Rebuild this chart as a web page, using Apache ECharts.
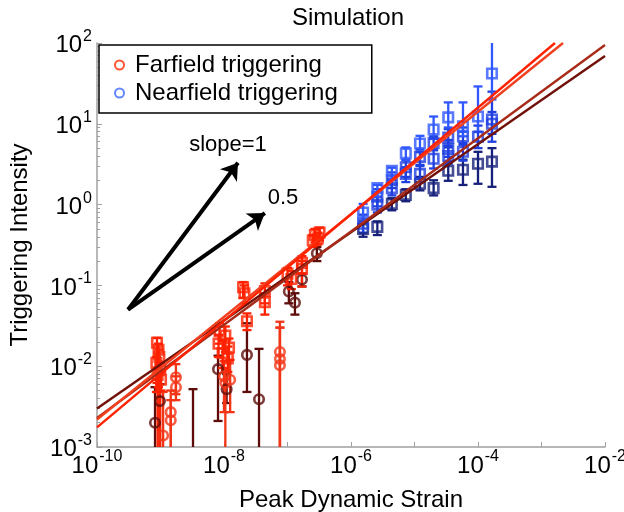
<!DOCTYPE html>
<html><head><meta charset="utf-8">
<script src="https://cdn.jsdelivr.net/npm/echarts@6/dist/echarts.min.js"></script>
<style>html,body{margin:0;padding:0;background:#fff}#c{width:624px;height:512px}</style>
</head><body><div id="c"></div>
<script>
// ---- data: [strain, intensity, lowerBound, upperBound] ----
const farBright = [
  [8.8e-10, 0.0195, 0.0062, 0.0225], [9.3e-10, 0.016, 0.0055, 0.019], [9.6e-10, 0.013, 0.0001, 0.016],
  [8.6e-10, 0.011, 0.0048, 0.013], [9.9e-10, 0.0092, 0.0001, 0.011], [9.0e-10, 0.0078, 0.0001, 0.0095],
  [1.02e-9, 0.0068, 0.005, 0.0085],
  [8.5e-9, 0.027, 0.019, 0.034], [1.05e-8, 0.024, 0.015, 0.031], [8.2e-9, 0.019, 0.013, 0.0245],
  [1.2e-8, 0.017, 0.0118, 0.022], [9.5e-9, 0.0145, 0.0095, 0.0205], [1.15e-8, 0.0125, 0.0085, 0.0175],
  [2.0e-8, 0.095, 0.07, 0.11], [2.1e-8, 0.08, 0.06, 0.1], [2.3e-8, 0.036, 0.028, 0.045],
  [4.4e-8, 0.085, 0.06, 0.106], [4.4e-8, 0.062, 0.0435, 0.08],
  [1.0e-7, 0.14, 0.1, 0.165], [1.15e-7, 0.12, 0.09, 0.15],
  [1.69e-7, 0.19, 0.14, 0.23], [1.69e-7, 0.16, 0.097, 0.2],
  [2.7e-7, 0.42, 0.34, 0.5], [3.2e-7, 0.45, 0.36, 0.52], [2.5e-7, 0.36, 0.3, 0.42], [3.0e-7, 0.38, 0.32, 0.45]
];
const farMid = [
  [1.75e-9, 0.0073, 0.0045, 0.0106], [1.75e-9, 0.0055, 0.0038, 0.0075], [1.45e-9, 0.0027, 0.0001, 0.005],
  [1.45e-9, 0.00214, 0.0001, 0.0038], [1.1e-9, 0.00139, 0.0001, 0.0048],
  [1.25e-8, 0.0068, 0.0027, 0.012], [1.0e-8, 0.0075, 0.0027, 0.0115], [1.05e-8, 0.0062, 0.0001, 0.009],
  [7.6e-8, 0.015, 0.0001, 0.0355], [7.6e-8, 0.0123, 0.0001, 0.03], [7.6e-8, 0.0103, 0.0001, 0.03]
];
const farDark = [
  [8.2e-10, 0.002, 0.0001, 0.0055], [9.8e-10, 0.0037, 0.0001, 0.006], [3.25e-9, 0.0005, 0.0001, 0.0052],
  [8.05e-9, 0.0092, 0.0021, 0.0135], [1.1e-8, 0.0052, 0.0035, 0.008], [2.3e-8, 0.0138, 0.0048, 0.034],
  [3.56e-8, 0.0039, 0.0001, 0.0164], [1.05e-7, 0.084, 0.06, 0.11], [1.31e-7, 0.0612, 0.0435, 0.08],
  [1.69e-7, 0.118, 0.097, 0.14], [2.9e-7, 0.25, 0.2, 0.3]
];
const nearLight = [
  [1.55e-6, 0.8, 0.6, 1.02], [2.6e-6, 1.6, 1.25, 1.75], [4.4e-6, 2.62, 2.1, 2.86], [7.3e-6, 4.3, 3.5, 5.1],
  [1.22e-5, 5.7, 4.5, 7.1], [2.0e-5, 8.5, 6.5, 12.3], [3.4e-5, 12, 9, 18.4], [5.8e-5, 9.3, 7, 18.4],
  [1e-4, 12.3, 8, 29], [1.66e-4, 42, 20, 200]
];
const nearMid = [
  [1.55e-6, 0.58, 0.45, 0.75], [2.6e-6, 1.25, 0.95, 1.55], [2.6e-6, 1.0, 0.8, 1.25], [4.4e-6, 2.0, 1.6, 2.5],
  [4.4e-6, 1.6, 1.3, 2.0], [7.3e-6, 2.9, 2.2, 3.6], [7.3e-6, 2.4, 1.9, 2.9], [1.22e-5, 3.9, 3.1, 4.8],
  [1.22e-5, 2.4, 1.9, 3.0], [2.0e-5, 5.8, 4.7, 7.0], [2.0e-5, 3.7, 2.8, 4.8], [3.4e-5, 6.75, 5.3, 8.6],
  [3.4e-5, 4.9, 3.9, 6.3], [3.4e-5, 4.0, 3.2, 5.1], [5.8e-5, 6.95, 5.5, 9], [5.8e-5, 4.5, 3.5, 5.8],
  [1e-4, 6.9, 5, 9.5], [1.66e-4, 11.3, 7.5, 25], [1.66e-4, 10, 6, 14]
];
const nearNavy = [
  [1.55e-6, 0.5, 0.4, 0.62], [2.6e-6, 0.53, 0.42, 0.62], [4.4e-6, 1.02, 0.85, 1.2], [7.3e-6, 1.32, 1.1, 1.55],
  [1.22e-5, 1.81, 1.5, 2.2], [2.0e-5, 1.6, 1.3, 2.0], [3.4e-5, 2.62, 1.97, 3.4], [5.8e-5, 2.7, 1.75, 3.6],
  [1e-4, 3.2, 1.81, 4.5], [1.66e-4, 3.4, 1.66, 5.0]
];
// fitted power-law lines (endpoints)
const fitA = [[1e-10, 1.75e-3], [1.63e-3, 100]];
const fitB = [[1e-10, 2.19e-3], [2.18e-3, 100]];
const fitC = [[1e-10, 2.29e-3], [1e-2, 94.4]];
const fitD = [[1e-10, 3.0e-3], [1e-2, 68.9]];
// slope guide arrows
const arrowTail = [3.08e-10, 0.05];
const arrowSlope1 = [1.66e-8, 3.3];
const arrowSlope05 = [4.4e-8, 0.785];
const yMinorTicks = [];
[1e-3, 1e-2, 1e-1, 1, 10].forEach(d => { for (let k = 2; k <= 9; k++) yMinorTicks.push(+(d * k).toPrecision(3)); });

const FONT = '"Liberation Sans", Arial, Helvetica, sans-serif';
const rich = {
  b: { fontSize: 24, fontFamily: FONT, color: '#000', lineHeight: 29, verticalAlign: 'bottom' },
  s: { fontSize: 16, fontFamily: FONT, color: '#000', lineHeight: 15, verticalAlign: 'top', padding: [0, 0, 0, 1] }
};
function supLabel(v, evenOnly) {
  const e = Math.round(Math.log10(v));
  if (evenOnly && e % 2 !== 0) return '';
  return '{b|10}{s|' + e + '}';
}
function errSeries(data, color) {
  return {
    type: 'custom', clip: true, data: data, z: 2,
    encode: { x: 0, y: 1 },
    renderItem: function (params, api) {
      const x = api.value(0), lo = api.value(2), hi = api.value(3);
      const p1 = api.coord([x, lo]), p2 = api.coord([x, hi]);
      const w = 4.5, st = { stroke: color, lineWidth: 2.3 };
      return { type: 'group', children: [
        { type: 'line', shape: { x1: p1[0], y1: p1[1], x2: p2[0], y2: p2[1] }, style: st },
        { type: 'line', shape: { x1: p1[0] - w, y1: p1[1], x2: p1[0] + w, y2: p1[1] }, style: st },
        { type: 'line', shape: { x1: p2[0] - w, y1: p2[1], x2: p2[0] + w, y2: p2[1] }, style: st }
      ]};
    }
  };
}
function markSeries(data, color, symbol) {
  return {
    type: 'scatter', data: data.map(d => [d[0], d[1]]), symbol: symbol, symbolSize: 9.5, z: 3, clip: true,
    itemStyle: { color: 'transparent', borderColor: color, borderWidth: 2.6 }, silent: true
  };
}
function fitSeries(data, color) {
  return { type: 'line', data: data, showSymbol: false, symbol: 'none', z: 4,
    lineStyle: { color: color, width: 2.4 }, clip: true };
}
const C_FB = '#ff2200', C_FM = '#f23416', C_FD = '#5e0c0a';
const C_NL = '#3058ff', C_NM = '#1f3fe0', C_NN = '#16207a';

const chart = echarts.init(document.getElementById('c'), null, { renderer: 'canvas' });
chart.setOption({
  animation: false,
  backgroundColor: '#fff',
  grid: { left: 97, right: 19, top: 43, bottom: 65, containLabel: false, outerBoundsMode: 'none' },
  xAxis: {
    type: 'log', logBase: 10, min: 1e-10, max: 1e-2, splitNumber: 8,
    name: 'Peak Dynamic Strain', nameLocation: 'middle', nameGap: 41,
    nameTextStyle: { fontSize: 24, fontFamily: FONT, color: '#000' },
    axisLine: { lineStyle: { color: '#a0a0a0', width: 1.5 } },
    axisTick: { inside: true, length: 5, lineStyle: { color: '#a0a0a0' } },
    axisLabel: { formatter: v => supLabel(v, true), rich: rich, margin: 2, showMinLabel: true, showMaxLabel: true },
    splitLine: { show: false }
  },
  yAxis: [{
    type: 'log', logBase: 10, min: 1e-3, max: 1e2, splitNumber: 5,
    name: 'Triggering Intensity', nameLocation: 'middle', nameGap: 65,
    nameTextStyle: { fontSize: 24, fontFamily: FONT, color: '#000' },
    axisLine: { lineStyle: { color: '#a0a0a0', width: 1.5 } },
    axisTick: { inside: true, length: 5, lineStyle: { color: '#a0a0a0' } },
    axisLabel: { formatter: v => supLabel(v, false), rich: rich, margin: 5 },
    splitLine: { show: false }
  }, {
    type: 'log', logBase: 10, min: 1e-3, max: 1e2, position: 'left',
    axisLine: { show: false },
    axisTick: { inside: true, length: 3, customValues: yMinorTicks, lineStyle: { color: '#a0a0a0' } },
    axisLabel: { show: false }, splitLine: { show: false }
  }],
  legend: {
    data: ['Farfield triggering', 'Nearfield triggering'],
    orient: 'vertical', left: 99, top: 45,
    padding: [6, 34, 6, 15], itemGap: 0, itemWidth: 9, itemHeight: 9,
    borderColor: '#000', borderWidth: 1.5, backgroundColor: '#fff',
    textStyle: { fontSize: 24, lineHeight: 28, fontFamily: FONT, color: '#000', padding: [0, 0, 0, 6] }
  },
  graphic: [
    { type: 'text', x: 348, y: 18, style: { text: 'Simulation', font: '24px ' + FONT, fill: '#000', align: 'center', verticalAlign: 'middle' } },
    { type: 'text', x: 228, y: 145, z: 10, style: { text: 'slope=1', font: '22px ' + FONT, fill: '#000', align: 'center', verticalAlign: 'middle' } },
    { type: 'text', x: 283, y: 198, z: 10, style: { text: '0.5', font: '22px ' + FONT, fill: '#000', align: 'center', verticalAlign: 'middle' } }
  ],
  series: [
    errSeries(farDark, C_FD), errSeries(farMid, C_FM), errSeries(farBright, C_FB),
    errSeries(nearNavy, C_NN), errSeries(nearMid, C_NM), errSeries(nearLight, C_NL),
    markSeries(farDark, C_FD, 'circle'), markSeries(farMid, C_FM, 'circle'), markSeries(farBright, C_FB, 'rect'),
    markSeries(nearNavy, C_NN, 'rect'), markSeries(nearMid, C_NM, 'rect'), markSeries(nearLight, C_NL, 'rect'),
    fitSeries(fitD, '#701008'), fitSeries(fitC, '#a82a18'), fitSeries(fitB, '#f04020'), fitSeries(fitA, '#ff2200'),
    {
      type: 'lines', coordinateSystem: 'cartesian2d', z: 6,
      symbol: ['none', 'arrow'], symbolSize: [0, 16],
      lineStyle: { color: '#000', width: 4, opacity: 1, curveness: 0 },
      data: [{ coords: [arrowTail, arrowSlope1] }, { coords: [arrowTail, arrowSlope05] }]
    },
    { name: 'Farfield triggering', type: 'scatter', data: [], symbol: 'circle',
      itemStyle: { color: 'transparent', borderColor: '#ff2a00', borderWidth: 1.5 } },
    { name: 'Nearfield triggering', type: 'scatter', data: [], symbol: 'circle',
      itemStyle: { color: 'transparent', borderColor: '#3a6aff', borderWidth: 1.5 } }
  ]
});
</script></body></html>
